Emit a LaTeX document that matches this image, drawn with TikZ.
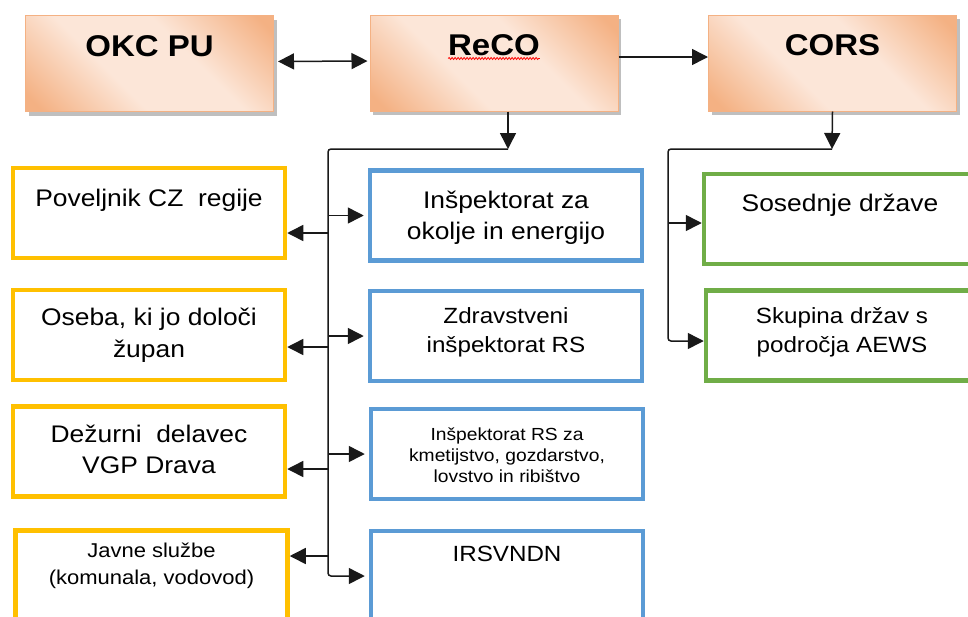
\documentclass[tikz,border=0pt]{standalone}
\usepackage{fontspec}
\setmainfont[FakeStretch=1.1]{Liberation Sans}
\usetikzlibrary{positioning,arrows.meta,shadows,decorations.pathmorphing}
\definecolor{peachdark}{HTML}{F4B183}
\definecolor{peachlight}{HTML}{FCE6D8}
\definecolor{boxyellow}{HTML}{FFC000}
\definecolor{boxblue}{HTML}{5B9BD5}
\definecolor{boxgreen}{HTML}{70AD47}
\pgfdeclarehorizontalshading{peach}{100bp}{color(0bp)=(peachdark); color(18bp)=(peachdark); color(40bp)=(peachlight); color(60bp)=(peachlight); color(82bp)=(peachdark); color(100bp)=(peachdark)}

\begin{document}
\begin{tikzpicture}[x=1pt,y=1pt]
\tikzstyle{head}=[rectangle,draw=peachdark,line width=1pt,shade,shading=peach,shading angle=45,minimum width=248pt,minimum height=96pt,drop shadow={shadow xshift=3pt,shadow yshift=-4pt,fill=black!50,opacity=.5}]
\tikzstyle{ybox}=[rectangle,draw=boxyellow,line width=4.5pt,minimum width=272pt,minimum height=90pt]
\tikzstyle{bbox}=[ybox,draw=boxblue]
\tikzstyle{gbox}=[ybox,draw=boxgreen]
\tikzstyle{txt}=[inner sep=0pt,outer sep=0pt,align=center,execute at begin node=\strut]
\tikzstyle{arr}=[-{Triangle[length=16pt,width=16pt]},line width=1.5pt,black!90]
\useasboundingbox (0,0) rectangle (968,-616);
\clip (0,0) rectangle (968,-616);

\node[head] (okc) at (149.5,-63.5) {};
\node[head] (reco) at (494,-63) {};
\node[head] (cors) at (832.5,-63) {};
\node[txt,font=\fontsize{30pt}{36pt}\selectfont\bfseries,below=15.8pt of okc.north] (okct) {OKC PU};
\node[txt,font=\fontsize{30pt}{36pt}\selectfont\bfseries,below=15.8pt of reco.north] (recot) {ReCO};
\node[txt,font=\fontsize{30pt}{36pt}\selectfont\bfseries,below=15.8pt of cors.north] (corst) {CORS};
\draw[red,line width=.8pt,decorate,decoration={snake,amplitude=1pt,segment length=3pt}] ([yshift=-3pt]recot.base west) -- ([yshift=-3pt]recot.base east);

\node[ybox] (y1) at (149,-213) {};
\node[ybox] (y2) at (149,-335) {};
\node[ybox] (y3) at (149,-451.5) {};
\node[ybox] (y4) at (151.5,-575.5) {};
\node[bbox] (b1) at (506,-215.5) {};
\node[bbox] (b2) at (506,-336) {};
\node[bbox] (b3) at (507,-454) {};
\node[bbox] (b4) at (507,-576) {};
\node[gbox] (g1) at (840,-219) {};
\node[gbox] (g2) at (842,-335.5) {};

\node[txt,font=\fontsize{24pt}{31pt}\selectfont,below=19.5pt of y1.north] (y1t) {Poveljnik CZ\ \ regije};
\node[txt,font=\fontsize{24pt}{32pt}\selectfont,below=20pt of y2.north] (y2t) {Oseba, ki jo določi\\župan};
\node[txt,font=\fontsize{24pt}{31pt}\selectfont,below=21pt of y3.north] (y3t) {Dežurni\ \ delavec\\VGP Drava};
\node[txt,font=\fontsize{20pt}{27pt}\selectfont,below=15pt of y4.north] (y4t) {Javne službe\\(komunala, vodovod)};
\node[txt,font=\fontsize{24pt}{31pt}\selectfont,below=23pt of b1.north] (b1t) {Inšpektorat za\\okolje in energijo};
\node[txt,font=\fontsize{22pt}{29pt}\selectfont,below=19pt of b2.north] (b2t) {Zdravstveni\\inšpektorat RS};
\node[txt,font=\fontsize{17.5pt}{21pt}\selectfont,below=21pt of b3.north] (b3t) {Inšpektorat RS za\\kmetijstvo, gozdarstvo,\\lovstvo in ribištvo};
\node[txt,font=\fontsize{22pt}{28pt}\selectfont,below=13.6pt of b4.north] (b4t) {IRSVNDN};
\node[txt,font=\fontsize{24pt}{31pt}\selectfont,below=18pt of g1.north] (g1t) {Sosednje države};
\node[txt,font=\fontsize{22pt}{29pt}\selectfont,below=19.5pt of g2.north] (g2t) {Skupina držav s\\področja AEWS};

\coordinate (rj) at (508,-149);
\coordinate (tr) at (328,-149);
\coordinate (l1) at (328,-233);
\coordinate (l2) at (328,-347);
\coordinate (l3) at (328,-469);
\coordinate (l4) at (328,-556);
\coordinate (cj) at (832,-149);
\coordinate (ct) at (668,-149);
\coordinate (c1) at (668,-223);
\coordinate (c2) at (668,-341);

\draw[arr,{Triangle[length=16pt,width=16pt]}-{Triangle[length=16pt,width=16pt]},shorten <=4pt,shorten >=2pt] ([yshift=2pt]okc.east) -- ([yshift=2pt]reco.west);
\draw[arr] ([yshift=6pt]reco.east) -- ([yshift=6pt]cors.west);
\draw[arr] (reco.south -| rj) -- (rj);
\draw[arr] (cors.south) -- (cj);

\draw[arr,rounded corners=3pt,shorten >=4pt] (rj) -- (tr) |- (b4.west);
\draw[arr,shorten >=4pt] (tr |- b1.west) -- (b1.west);
\draw[arr,shorten >=4pt] (tr |- b2.west) -- (b2.west);
\draw[arr,shorten >=4pt] (tr |- b3.west) -- (b3.west);
\draw[arr] (l1) -- (l1 -| y1.east);
\draw[arr] (l2) -- (l2 -| y2.east);
\draw[arr] (l3) -- (l3 -| y3.east);
\draw[arr] (l4) -- (l4 -| y4.east);

\draw[arr,rounded corners=3pt] (cj) -- (ct) -- (c2) -- (c2 -| g2.west);
\draw[arr] (c1) -- (c1 -| g1.west);
\end{tikzpicture}
\end{document}
